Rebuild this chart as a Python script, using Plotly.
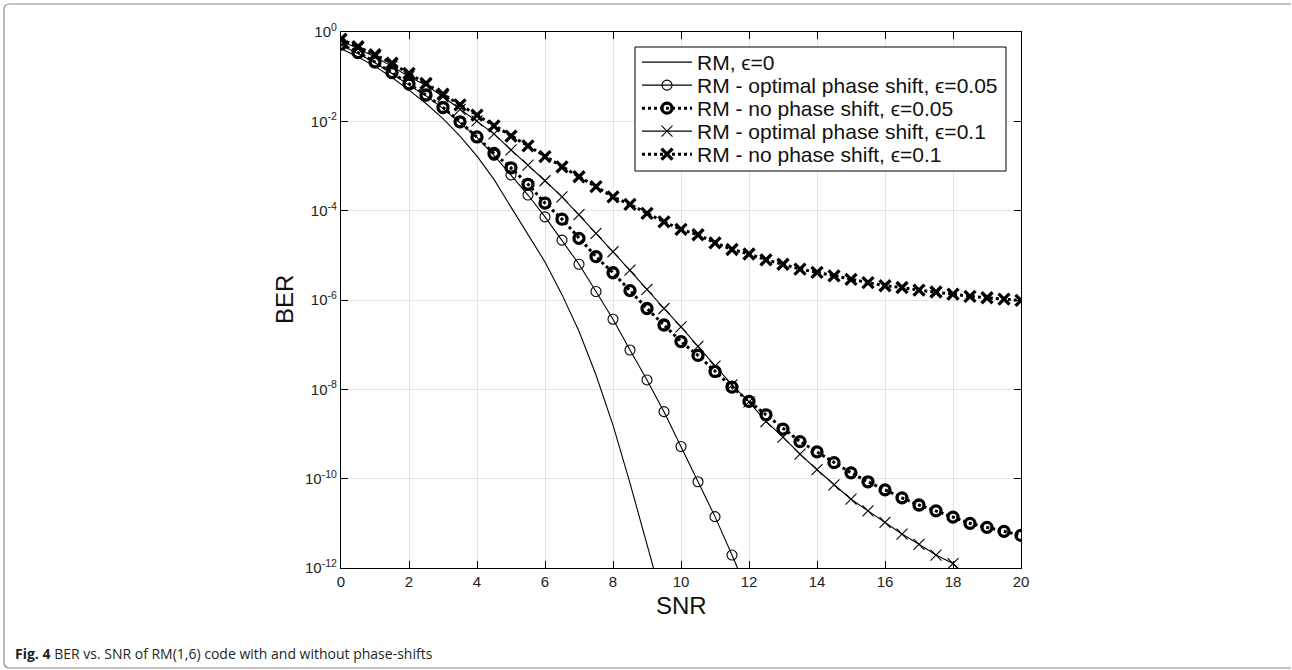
import plotly.graph_objects as go

# ---------------- data ----------------
snr_fine = [0, 0.5, 1.0, 1.5, 2.0, 2.5, 3.0, 3.5, 4.0, 4.5, 5.0, 5.5, 6.0, 6.5,
            7.0, 7.5, 8.0, 8.5, 9.0, 9.5]
# log10(BER) for RM, eps=0 (no markers)
log_rm0 = [-0.37, -0.56, -0.77, -1.02, -1.30, -1.60, -1.94, -2.33, -2.78, -3.30,
           -3.92, -4.54, -5.15, -5.88, -6.70, -7.68, -8.80, -10.10, -11.45, -12.85]

snr = [0, 0.5, 1.0, 1.5, 2.0, 2.5, 3.0, 3.5, 4.0, 4.5, 5.0, 5.5, 6.0, 6.5, 7.0,
       7.5, 8.0, 8.5, 9.0, 9.5, 10.0, 10.5, 11.0, 11.5, 12.0, 12.5, 13.0, 13.5,
       14.0, 14.5, 15.0, 15.5, 16.0, 16.5, 17.0, 17.5, 18.0, 18.5, 19.0, 19.5, 20.0]

# RM - optimal phase shift, eps=0.05
log_opt05 = [-0.29, -0.48, -0.69, -0.93, -1.19, -1.43, -1.71, -2.03, -2.36, -2.76,
             -3.20, -3.65, -4.14, -4.66, -5.20, -5.81, -6.43, -7.12, -7.79, -8.50,
             -9.28, -10.07, -10.85, -11.71, -12.6, None, None, None, None, None,
             None, None, None, None, None, None, None, None, None, None, None]
# RM - no phase shift, eps=0.05
log_no05 = [-0.27, -0.46, -0.67, -0.91, -1.16, -1.41, -1.69, -2.01, -2.35, -2.72,
            -3.04, -3.41, -3.83, -4.19, -4.62, -5.03, -5.39, -5.79, -6.19, -6.56,
            -6.93, -7.24, -7.60, -7.95, -8.27, -8.57, -8.89, -9.17, -9.40, -9.64,
            -9.87, -10.07, -10.25, -10.43, -10.59, -10.72, -10.86, -11.00, -11.09,
            -11.18, -11.27]
# RM - optimal phase shift, eps=0.1
log_opt10 = [-0.20, -0.37, -0.56, -0.77, -1.00, -1.19, -1.45, -1.73, -1.99, -2.28,
             -2.64, -2.98, -3.33, -3.69, -4.09, -4.51, -4.92, -5.33, -5.76, -6.19,
             -6.60, -7.04, -7.48, -7.90, -8.28, -8.72, -9.07, -9.45, -9.80, -10.14,
             -10.46, -10.72, -10.98, -11.24, -11.47, -11.71, -11.90, -12.25, None,
             None, None]
# RM - no phase shift, eps=0.1
log_no10 = [-0.16, -0.33, -0.51, -0.70, -0.93, -1.15, -1.39, -1.63, -1.86, -2.10,
            -2.33, -2.55, -2.79, -3.02, -3.24, -3.46, -3.69, -3.86, -4.06, -4.25,
            -4.42, -4.54, -4.72, -4.87, -4.97, -5.10, -5.20, -5.31, -5.38, -5.46,
            -5.54, -5.61, -5.68, -5.72, -5.78, -5.82, -5.87, -5.92, -5.95, -5.98,
            -6.01]

names = ["RM, ϵ=0",
         "RM - optimal phase shift, ϵ=0.05",
         "RM - no phase shift, ϵ=0.05",
         "RM - optimal phase shift, ϵ=0.1",
         "RM - no phase shift, ϵ=0.1"]

x_ticks = [0, 2, 4, 6, 8, 10, 12, 14, 16, 18, 20]
y_exps = [0, -2, -4, -6, -8, -10, -12]


def to_ber(vals):
    return [None if v is None else 10 ** v for v in vals]


# ---------------- layout geometry (pixels) ----------------
W, H = 1292, 670
PL, PR, PT, PB = 341, 1021, 32, 568
pw, ph = PR - PL, PB - PT


def px(x):
    return (x - PL) / pw


def py(y):
    return (PB - y) / ph


FONT = "Liberation Sans, Arial, Helvetica, sans-serif"
BLACK = "#000000"
THIN = 1.1
THICK = 3.0

styles = [
    dict(mode="lines", line=dict(color=BLACK, width=THIN)),
    dict(mode="lines+markers", line=dict(color=BLACK, width=THIN),
         marker=dict(symbol="circle-open", size=10, color=BLACK,
                     line=dict(width=THIN, color=BLACK))),
    dict(mode="lines+markers", line=dict(color=BLACK, width=THICK, dash="dot"),
         marker=dict(symbol="circle-open", size=10, color=BLACK,
                     line=dict(width=3.3, color=BLACK))),
    dict(mode="lines+markers", line=dict(color=BLACK, width=THIN),
         marker=dict(symbol="x-thin-open", size=11, color=BLACK,
                     line=dict(width=THIN, color=BLACK))),
    dict(mode="lines+markers", line=dict(color=BLACK, width=THICK, dash="dot"),
         marker=dict(symbol="x-thin-open", size=11, color=BLACK,
                     line=dict(width=3.3, color=BLACK))),
]
xs = [snr_fine, snr, snr, snr, snr]
ys = [log_rm0, log_opt05, log_no05, log_opt10, log_no10]
legend_ids = ["legend", "legend2", "legend3", "legend4", "legend5"]

fig = go.Figure()
for i in range(5):
    fig.add_trace(go.Scatter(x=xs[i], y=to_ber(ys[i]), name=names[i],
                             legend=legend_ids[i], **styles[i]))

axis_common = dict(showline=True, linecolor=BLACK, linewidth=1.2, mirror="ticks",
                   ticks="inside", ticklen=7, tickwidth=1.2, tickcolor=BLACK,
                   showgrid=True, gridcolor="#e3e3e3", gridwidth=1, zeroline=False,
                   tickfont=dict(family=FONT, size=15, color="#222222"))

# legend box and rows
LEG_L, LEG_R, LEG_T, LEG_B = 635, 1006, 47, 171
row_centers = [62.5, 85.5, 108.5, 131.5, 154.5]
legend_layout = {}
for i, lid in enumerate(legend_ids):
    legend_layout[lid] = dict(
        x=px(LEG_L + 2), y=py(row_centers[i]), xanchor="left", yanchor="middle",
        bgcolor="rgba(0,0,0,0)", borderwidth=0,
        font=dict(family=FONT, size=21, color="#111111"),
        itemwidth=50, tracegroupgap=0)

fig.update_layout(
    width=W, height=H,
    margin=dict(l=PL, r=W - PR, t=PT, b=H - PB, pad=0),
    paper_bgcolor="white", plot_bgcolor="white",
    showlegend=True,
    xaxis=dict(range=[0, 20], tickvals=x_ticks,
               ticktext=[str(v) for v in x_ticks], **axis_common),
    yaxis=dict(type="log", range=[-12, 0],
               tickvals=[10 ** e for e in y_exps],
               ticktext=["10<sup>%d</sup>" % e for e in y_exps], **axis_common),
    **legend_layout,
)

fig.add_shape(type="rect", xref="paper", yref="paper",
              x0=px(LEG_L), x1=px(LEG_R), y0=py(LEG_B), y1=py(LEG_T),
              fillcolor="white", line=dict(color=BLACK, width=1), layer="above")

# axis titles
fig.add_annotation(x=px(681), y=py(605), xref="paper", yref="paper",
                   text="SNR", showarrow=False, xanchor="center", yanchor="middle",
                   font=dict(family=FONT, size=24, color="#111111"))
fig.add_annotation(x=px(284), y=py(300), xref="paper", yref="paper",
                   text="BER", showarrow=False, textangle=-90,
                   xanchor="center", yanchor="middle",
                   font=dict(family=FONT, size=24, color="#111111"))

# caption
fig.add_annotation(x=px(13), y=py(653), xref="paper", yref="paper",
                   text="<b>Fig. 4</b> BER vs. SNR of RM(1,6) code with and without phase-shifts",
                   showarrow=False, xanchor="left", yanchor="middle",
                   font=dict(family="Open Sans, sans-serif", size=14, color="#231f20"))

# outer rounded frame
r = 6
x0, x1, y0, y1 = 4, 1291, 4, 668
path = (f"M {px(x0 + r)},{py(y0)} L {px(x1)},{py(y0)} "
        f"M {px(x0 + r)},{py(y0)} Q {px(x0)},{py(y0)} {px(x0)},{py(y0 + r)} "
        f"L {px(x0)},{py(y1 - r)} Q {px(x0)},{py(y1)} {px(x0 + r)},{py(y1)} "
        f"L {px(x1)},{py(y1)}")
fig.add_shape(type="path", path=path, xref="paper", yref="paper",
              line=dict(color="#8a8a8a", width=1.2), layer="above")

fig.write_html("out.html")
